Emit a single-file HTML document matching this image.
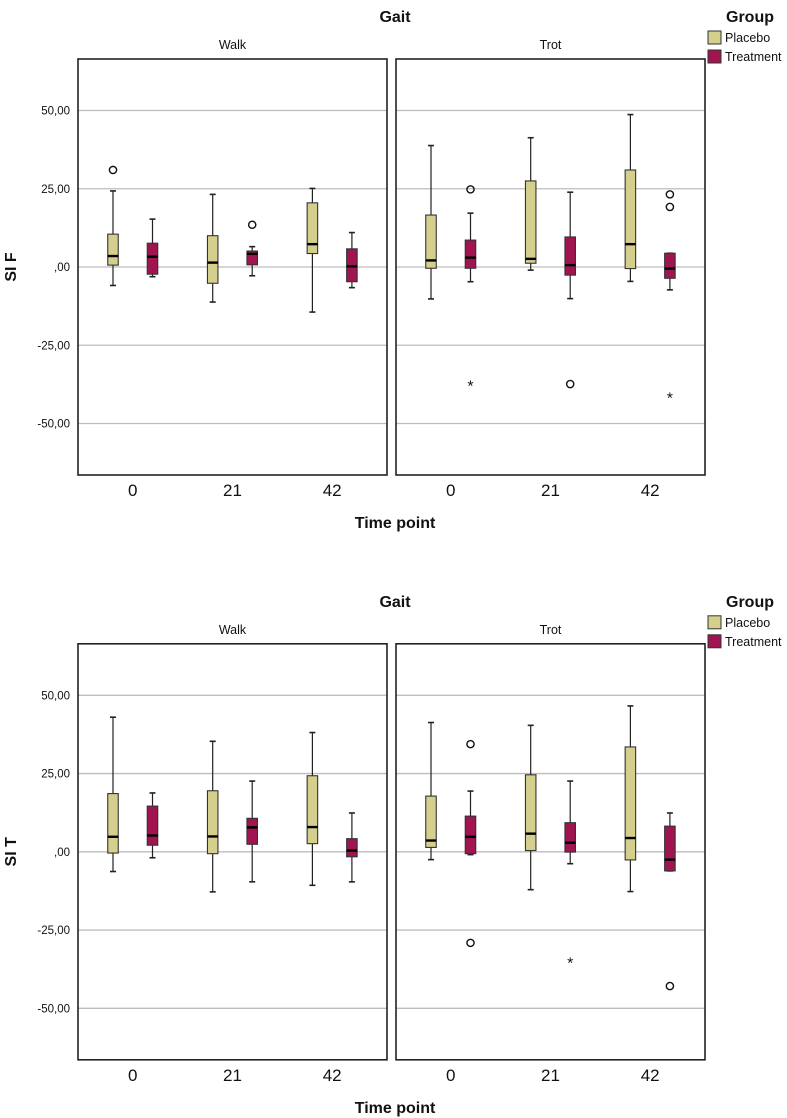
<!DOCTYPE html>
<html><head><meta charset="utf-8"><style>
body{margin:0;background:#fff;}
svg{display:block;font-family:"Liberation Sans",Arial,sans-serif;}
</style></head><body>
<svg id="c" width="787" height="1118"></svg>
<script>
// categories
const timePoints = ["0","21","42"];
const gaits = ["Walk","Trot"];
const groups = ["Placebo","Treatment"];
const yTicks = [50,25,0,-25,-50];
const yTickLabels = ["50,00","25,00",",00","-25,00","-50,00"];
// each box: [lowWhisker, q1, median, q3, highWhisker]
const sifWalkPlacebo = [[-5.9,0.6,3.5,10.5,24.3],[-11.2,-5.2,1.4,10,23.2],[-14.4,4.3,7.3,20.5,25.1]];
const sifWalkTreatment = [[-3.1,-2.3,3.3,7.6,15.3],[-2.8,0.7,4.2,5.1,6.5],[-6.6,-4.7,0.2,5.8,11]];
const sifTrotPlacebo = [[-10.2,-0.4,2.1,16.6,38.8],[-1.0,1.2,2.6,27.5,41.3],[-4.6,-0.5,7.3,31,48.7]];
const sifTrotTreatment = [[-4.7,-0.4,3.0,8.6,17.2],[-10.1,-2.6,0.6,9.6,23.9],[-7.3,-3.6,-0.5,4.4,4.4]];
const sitWalkPlacebo = [[-6.3,-0.4,4.8,18.6,43],[-12.8,-0.6,4.9,19.5,35.3],[-10.7,2.6,7.9,24.3,38.1]];
const sitWalkTreatment = [[-1.9,2.1,5.2,14.6,18.8],[-9.6,2.4,7.8,10.7,22.6],[-9.6,-1.6,0.4,4.2,12.4]];
const sitTrotPlacebo = [[-2.5,1.4,3.6,17.8,41.3],[-12.1,0.4,5.8,24.6,40.4],[-12.7,-2.6,4.4,33.5,46.6]];
const sitTrotTreatment = [[-0.9,-0.6,4.8,11.4,19.4],[-3.8,-0.1,2.9,9.3,22.6],[-6.1,-6.1,-2.5,8.2,12.4]];
// outliers: [gaitIndex, timeIndex, groupIndex, value, type]
const sifOutliers = [[0,0,0,31,"o"],[0,1,1,13.5,"o"],[1,0,1,24.8,"o"],[1,0,1,-37.5,"*"],[1,1,1,-37.4,"o"],[1,2,1,23.2,"o"],[1,2,1,19.2,"o"],[1,2,1,-41.4,"*"]];
const sitOutliers = [[1,0,1,34.4,"o"],[1,0,1,-29.1,"o"],[1,1,1,-35,"*"],[1,2,1,-42.9,"o"]];

const NS="http://www.w3.org/2000/svg";
const svg=document.getElementById('c');
const colors=["#d5cf8e","#a0154f"];
function mk(tag,attrs,parent){const e=document.createElementNS(NS,tag);for(const k in attrs)e.setAttribute(k,attrs[k]);(parent||svg).appendChild(e);return e;}
function txt(x,y,s,size,weight,anchor,parent){const t=mk('text',{x:x,y:y,'font-size':size,'font-weight':weight||'normal','text-anchor':anchor||'middle',fill:'#111'},parent);t.textContent=s;return t;}

function chart(oy,yTitle,data,outliers,prefix){
  const g=mk('g',{});
  
  
  const top=59+oy,bot=475+oy;
  const y0=267+oy, k=3.13;
  const Y=v=>y0-v*k;
  const panelL=[78,396], panelW=309;
  const X=(p,t,gr)=>panelL[p]+35+t*99.7+gr*39.5;
  let tt=txt(395,22+oy,"Gait",16,'bold','middle',g);
  
  tt=txt(750,22+oy,"Group",16,'bold','middle',g);
  
  groups.forEach((n,i)=>{
    const r=mk('rect',{x:708,y:31+oy+i*19,width:13,height:13,fill:colors[i],stroke:'#333','stroke-width':1},g);
    
    
    const t=txt(725,42+oy+i*19,n,12.5,'normal','start',g);
    
    
  });
  const yt=mk('text',{x:0,y:0,'font-size':16,'font-weight':'bold','text-anchor':'middle',fill:'#111',transform:`translate(16,${y0}) rotate(-90)`},g);
  yt.textContent=yTitle;
  
  
  yTicks.forEach((v,i)=>{
    const t=txt(70,Y(v)+4,yTickLabels[i],11.5,'normal','end',g);
    
    
  });
  gaits.forEach((gn,p)=>{
    const pl=txt(panelL[p]+panelW/2,49+oy,gn,12.5,'normal','middle',g);
    
    
    yTicks.forEach(v=>{
      const l=mk('line',{x1:panelL[p],x2:panelL[p]+panelW,y1:Y(v),y2:Y(v),stroke:'#bdbdbd','stroke-width':1.3},g);
      
      
    });
    timePoints.forEach((tp,t)=>{
      const xl=txt((X(p,t,0)+X(p,t,1))/2,496+oy,tp,17,'normal','middle',g);
      
      
      [0,1].forEach(gr=>{
        const d=data[p][gr][t];const cx=X(p,t,gr);const w=10.5;
        const wl=mk('line',{x1:cx,x2:cx,y1:Y(d[0]),y2:Y(d[4]),stroke:'#222','stroke-width':1.2},g);
        
        
        [d[0],d[4]].forEach(v=>{
          const c=mk('line',{x1:cx-3,x2:cx+3,y1:Y(v),y2:Y(v),stroke:'#222','stroke-width':1.6},g);
          
          
        });
        const b=mk('rect',{x:cx-w/2,y:Y(d[3]),width:w,height:Math.max(1,Y(d[1])-Y(d[3])),fill:colors[gr],stroke:'#333','stroke-width':1.1},g);
        
        
        const m=mk('line',{x1:cx-w/2,x2:cx+w/2,y1:Y(d[2]),y2:Y(d[2]),stroke:'#000','stroke-width':2.4},g);
        
        
      });
    });
    const fr=mk('rect',{x:panelL[p],y:top,width:panelW,height:bot-top,fill:'none',stroke:'#222','stroke-width':1.6},g);
    
    
  });
  outliers.forEach(o=>{
    const cx=X(o[0],o[1],o[2]),cy=Y(o[3]);
    let e;
    if(o[4]==="o"){e=mk('circle',{cx:cx,cy:cy,r:3.6,fill:'none',stroke:'#111','stroke-width':1.4},g);}
    else{e=mk('text',{x:cx,y:cy+7,'font-size':16,'text-anchor':'middle',fill:'#111'},g);e.textContent="*";}
    
    
  });
  const xt=txt(395,528+oy,"Time point",16,'bold','middle',g);
  
  
}
chart(0,"SI F",[[sifWalkPlacebo,sifWalkTreatment],[sifTrotPlacebo,sifTrotTreatment]],sifOutliers,'sif');
chart(584.8,"SI T",[[sitWalkPlacebo,sitWalkTreatment],[sitTrotPlacebo,sitTrotTreatment]],sitOutliers,'sit');
</script>
</body></html>
